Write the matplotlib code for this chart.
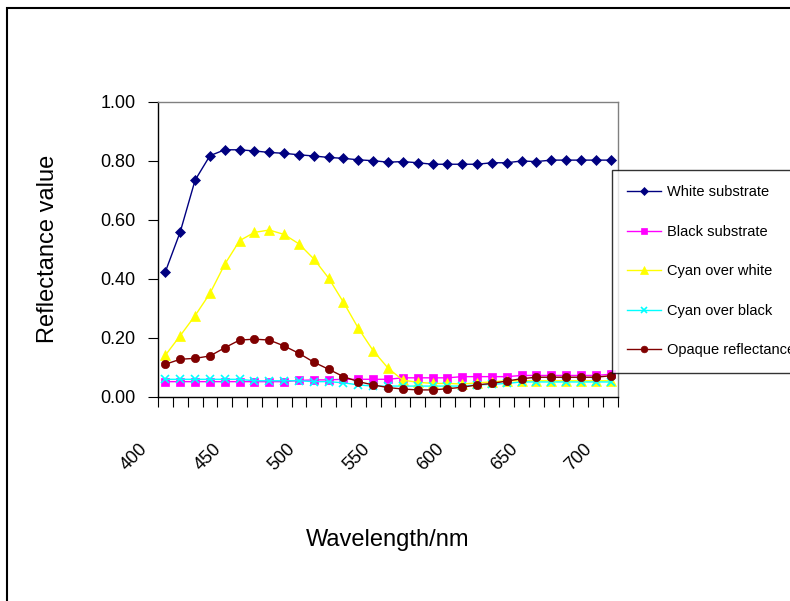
import matplotlib
matplotlib.use("Agg")
import matplotlib.pyplot as plt
from matplotlib.patches import Rectangle
from matplotlib.transforms import ScaledTranslation

plt.rcParams['font.family'] = ['Liberation Sans', 'DejaVu Sans']

wavelengths = list(range(400, 710, 10))
tick_labels = ['400', '450', '500', '550', '600', '650', '700']

white_substrate = [0.424, 0.559, 0.734, 0.817, 0.837, 0.837, 0.833, 0.828, 0.825, 0.820,
                   0.816, 0.811, 0.808, 0.803, 0.800, 0.795, 0.797, 0.793, 0.788, 0.788,
                   0.788, 0.788, 0.793, 0.793, 0.799, 0.797, 0.802, 0.802, 0.802, 0.802, 0.802]
black_substrate = [0.051, 0.051, 0.051, 0.051, 0.051, 0.051, 0.051, 0.051, 0.051, 0.055,
                   0.057, 0.057, 0.059, 0.059, 0.059, 0.059, 0.064, 0.064, 0.064, 0.064,
                   0.068, 0.068, 0.068, 0.068, 0.072, 0.072, 0.072, 0.072, 0.072, 0.072, 0.076]
cyan_over_white = [0.141, 0.207, 0.275, 0.350, 0.449, 0.529, 0.557, 0.565, 0.550, 0.518,
                   0.467, 0.402, 0.320, 0.232, 0.156, 0.097, 0.056, 0.049, 0.045, 0.045,
                   0.043, 0.047, 0.050, 0.054, 0.054, 0.054, 0.054, 0.054, 0.054, 0.054, 0.054]
cyan_over_black = [0.059, 0.059, 0.059, 0.059, 0.059, 0.059, 0.054, 0.054, 0.054, 0.054,
                   0.051, 0.051, 0.047, 0.040, 0.036, 0.036, 0.036, 0.036, 0.036, 0.036,
                   0.036, 0.040, 0.042, 0.045, 0.050, 0.050, 0.050, 0.050, 0.050, 0.050, 0.050]
opaque = [0.110, 0.127, 0.130, 0.138, 0.166, 0.192, 0.195, 0.192, 0.172, 0.147,
          0.117, 0.093, 0.068, 0.051, 0.040, 0.031, 0.026, 0.023, 0.023, 0.027,
          0.032, 0.040, 0.045, 0.053, 0.061, 0.066, 0.066, 0.066, 0.066, 0.066, 0.071]

series = [
    ('White substrate', white_substrate, '#000080', 'D', 5.5),
    ('Black substrate', black_substrate, '#FF00FF', 's', 5.5),
    ('Cyan over white', cyan_over_white, '#FFFF00', '^', 6.5),
    ('Cyan over black', cyan_over_black, '#00FFFF', 'x', 5.5),
    ('Opaque reflectance', opaque, '#800000', 'o', 6),
]

fig = plt.figure(figsize=(7.9, 6.01), dpi=100)
ax = fig.add_axes([158 / 790, 1 - 396.7 / 601, 460 / 790, 295 / 601])

handles = []
for name, vals, col, mk, ms in series:
    h, = ax.plot(wavelengths, vals, color=col, marker=mk, markersize=ms,
                 linewidth=1.0, markeredgewidth=1.2 if mk == 'x' else 0.5,
                 markeredgecolor=col, label=name)
    handles.append(h)

ax.set_xlim(395, 705)
ax.set_ylim(0, 1.0)

ax.set_yticks([0, 0.2, 0.4, 0.6, 0.8, 1.0])
ax.set_yticklabels(['0.00', '0.20', '0.40', '0.60', '0.80', '1.00'])
ax.tick_params(axis='y', direction='out', length=7, width=0.8, pad=9, labelsize=13)

ax.set_xticks([int(t) for t in tick_labels])
ax.set_xticklabels(tick_labels)
ax.set_xticks([w - 5 for w in wavelengths] + [705], minor=True)
ax.tick_params(axis='x', which='major', length=0, pad=36, labelsize=13)
ax.tick_params(axis='x', which='minor', direction='out', length=7, width=0.8)
offset = ScaledTranslation(-0.21, 0, fig.dpi_scale_trans)
for lab in ax.get_xticklabels():
    lab.set_rotation(45)
    lab.set_ha('right')
    lab.set_va('center')
    lab.set_rotation_mode('anchor')
    lab.set_transform(lab.get_transform() + offset)

for s in ['top', 'right']:
    ax.spines[s].set_color('#808080')
for s in ['left', 'bottom']:
    ax.spines[s].set_color('black')
for s in ax.spines.values():
    s.set_linewidth(1.0)

ax.set_ylabel('Reflectance value', fontsize=17)
ax.yaxis.set_label_coords(-0.215, 0.5)
ax.set_xlabel('Wavelength/nm', fontsize=17)
ax.xaxis.set_label_coords(0.5, -0.45)

leg = fig.legend(handles=handles, loc='upper left',
                 bbox_to_anchor=(612 / 790, 1 - 170 / 601),
                 fontsize=10.5, frameon=True, fancybox=False, shadow=False,
                 borderaxespad=0, borderpad=1.05, labelspacing=1.75,
                 handlelength=2.3, handletextpad=0.4, markerscale=0.8)
leg.get_frame().set_edgecolor('black')
leg.get_frame().set_linewidth(1.0)

fig.patches.append(Rectangle((7 / 790, -0.1), 1.2, 1.1 - 7.5 / 601,
                             transform=fig.transFigure, fill=False,
                             edgecolor='black', linewidth=1.5))

fig.savefig('out.png', dpi=100)
